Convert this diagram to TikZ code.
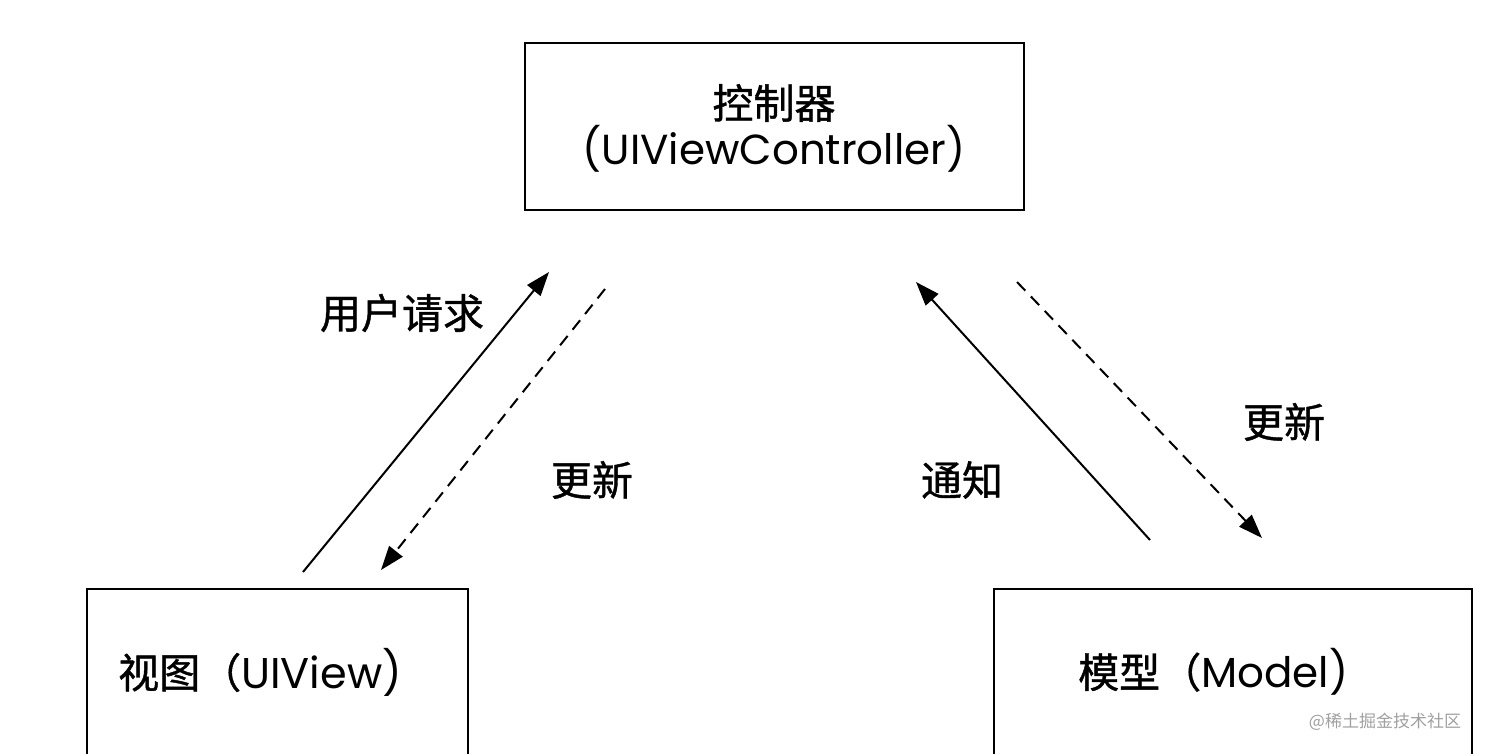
\documentclass[tikz,border=0pt]{standalone}
\usepackage{fontspec}
\setmainfont{Poppins}
\newfontfamily\cjk[FakeBold=1]{Noto Sans CJK SC}
\newfontfamily\cjkthin{Noto Sans CJK SC}
\usetikzlibrary{arrows.meta}
\definecolor{wm}{HTML}{A0A0A0}
\tikzset{
  box/.style={draw=black, line width=2pt, minimum width=#1, inner sep=0pt},
  lbl/.style={inner sep=0pt, font=\cjk\fontsize{41}{48}\selectfont},
  lat/.style={font=\fontsize{42}{48}\selectfont},
  arr/.style={line width=2pt, -{Triangle[length=24pt,width=17pt]}},
  darr/.style={arr, dash pattern=on 12pt off 8pt},
}
\begin{document}
\begin{tikzpicture}[x=1pt,y=-1pt]
\useasboundingbox (0,0) rectangle (1486,754);
\clip (0,0) rectangle (1486,754);
% boxes
\node[box=499pt, minimum height=167pt] (ctrl) at (774.5,126.5) {};
\node[box=381pt, minimum height=240pt] (view) at (277.5,709) {};
\node[box=478pt, minimum height=240pt] (model) at (1233,709) {};
% box texts
\node[lbl] (ctrlcn) at (774,103) {控制器};
\node[inner sep=0pt, lat] (ctrlen) at (774,149) {(UIViewController)};
\node[inner sep=0pt, anchor=west] (viewt) at (118,672) {{\cjk\fontsize{41}{48}\selectfont 视图（}{\fontsize{43}{48}\selectfont UIView)}};
\node[inner sep=0pt, anchor=west] (modelt) at (1078,672) {{\cjk\fontsize{41}{48}\selectfont 模型（}{\fontsize{42}{48}\selectfont Model)}};
% connector endpoints
\coordinate (a1s) at (303,572);
\coordinate (a1e) at (549,272);
\coordinate (a2s) at (605,289);
\coordinate (a2e) at (381,570);
\coordinate (a3s) at (1150,540);
\coordinate (a3e) at (916,282);
\coordinate (a4s) at (1017,282);
\coordinate (a4e) at (1262,538);
\draw[arr] (a1s) -- (a1e);
\draw[darr] (a2s) -- (a2e);
\draw[arr] (a3s) -- (a3e);
\draw[darr] (a4s) -- (a4e);
% labels
\node[lbl] (req) at (402,313) {用户请求};
\node[lbl] (upd1) at (592,480) {更新};
\node[lbl] (notif) at (962,480) {通知};
\node[lbl] (upd2) at (1284,422) {更新};
% watermark
\node[inner sep=0pt, text=wm, font=\cjkthin\fontsize{17}{20}\selectfont] (wmk) at (1385,722) {@稀土掘金技术社区};
\end{tikzpicture}
\end{document}
